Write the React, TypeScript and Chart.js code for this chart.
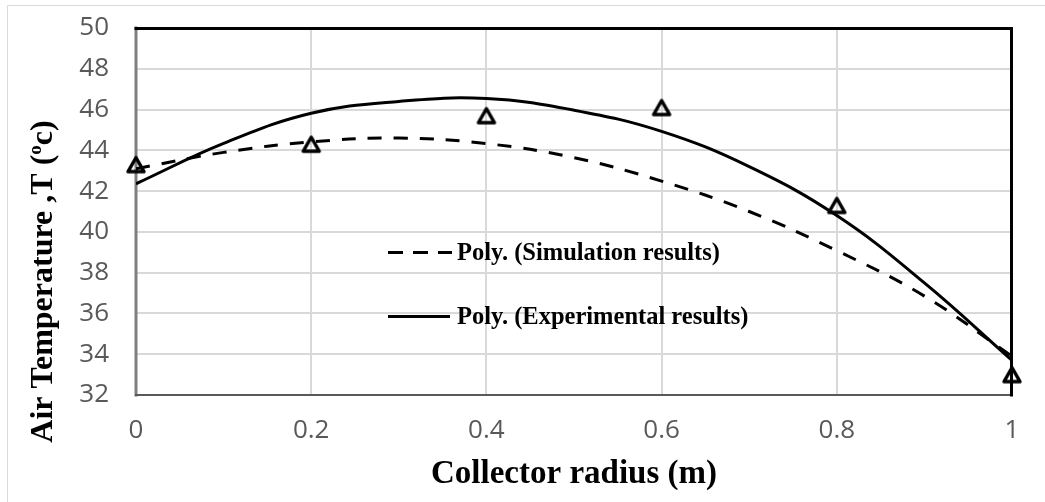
import React, { useEffect, useRef } from 'react';
import { Chart, registerables } from 'chart.js';

Chart.register(...registerables);

// ---- data ----
const curveX = [0, 0.1, 0.2, 0.3, 0.4, 0.5, 0.6, 0.7, 0.8, 0.9, 1.0];
const simulationPoly = [43.1, 43.9, 44.41, 44.6, 44.33, 43.64, 42.49, 41.0, 39.08, 36.85, 33.9];
const experimentalPoly = [42.36, 44.34, 45.82, 46.4, 46.54, 45.97, 44.93, 43.2, 40.8, 37.5, 33.7];
const markerX = [0, 0.2, 0.4, 0.6, 0.8, 1.0];
const markerValues = [43.3, 44.3, 45.7, 46.1, 41.3, 33.0];

const xTickValues = [0, 0.2, 0.4, 0.6, 0.8, 1];
const xTickLabels = ['0', '0.2', '0.4', '0.6', '0.8', '1'];
const yTickValues = [32, 34, 36, 38, 40, 42, 44, 46, 48, 50];
const yTickLabels = ['32', '34', '36', '38', '40', '42', '44', '46', '48', '50'];

const legendLabels = ['Poly. (Simulation results)', 'Poly. (Experimental results)'];
const xTitle = 'Collector radius (m)';
const yTitleParts = ['Air Temperature ,T (', 'o', 'c)'];

const W = 1045;
const H = 502;
const SERIF = '"Liberation Serif", "Times New Roman", serif';
const SANS = '"Open Sans", "Noto Sans", sans-serif';

function makeTriangle(): HTMLCanvasElement {
  const c = document.createElement('canvas');
  c.width = 28;
  c.height = 28;
  const g = c.getContext('2d')!;
  const cx = 14;
  const cy = 14;
  const w = 16;
  const h = 14;
  g.strokeStyle = '#000';
  g.lineWidth = 3.5;
  g.lineJoin = 'round';
  g.beginPath();
  g.moveTo(cx, cy - h / 2);
  g.lineTo(cx + w / 2, cy + h / 2);
  g.lineTo(cx - w / 2, cy + h / 2);
  g.closePath();
  g.stroke();
  return c;
}

const decorPlugin = {
  id: 'decor',
  beforeDraw(chart: any) {
    const ctx = chart.ctx;
    ctx.save();
    ctx.fillStyle = '#fff';
    ctx.fillRect(0, 0, W, H);
    ctx.strokeStyle = '#d9d9d9';
    ctx.lineWidth = 1;
    ctx.beginPath();
    ctx.moveTo(7.5, H);
    ctx.lineTo(7.5, 5.5);
    ctx.lineTo(W, 5.5);
    ctx.stroke();
    ctx.restore();
  },
  beforeDatasetsDraw(chart: any) {
    const ctx = chart.ctx;
    const { left, right, top, bottom } = chart.chartArea;
    ctx.save();
    ctx.lineCap = 'square';
    ctx.strokeStyle = '#7f7f7f';
    ctx.lineWidth = 3;
    ctx.beginPath();
    ctx.moveTo(left, top);
    ctx.lineTo(left, bottom);
    ctx.stroke();
    ctx.strokeStyle = '#595959';
    ctx.lineWidth = 2;
    ctx.beginPath();
    ctx.moveTo(left, bottom);
    ctx.lineTo(right, bottom);
    ctx.stroke();
    ctx.strokeStyle = '#000';
    ctx.lineWidth = 3;
    ctx.beginPath();
    ctx.moveTo(left, top + 0.5);
    ctx.lineTo(right - 0.5, top + 0.5);
    ctx.lineTo(right - 0.5, bottom);
    ctx.stroke();
    ctx.restore();
  },
  afterDraw(chart: any) {
    const ctx = chart.ctx;
    const { left, right } = chart.chartArea;
    ctx.save();
    ctx.fillStyle = '#000';
    // x title
    ctx.font = `bold 33px ${SERIF}`;
    ctx.textAlign = 'center';
    ctx.textBaseline = 'alphabetic';
    ctx.fillText(xTitle, (left + right) / 2, 483);
    // y title
    ctx.translate(52, 281.5);
    ctx.rotate(-Math.PI / 2);
    ctx.textAlign = 'left';
    const big = `bold 32px ${SERIF}`;
    const small = `bold 19px ${SERIF}`;
    ctx.font = big;
    const w1 = ctx.measureText(yTitleParts[0]).width;
    const w3 = ctx.measureText(yTitleParts[2]).width;
    ctx.font = small;
    const w2 = ctx.measureText(yTitleParts[1]).width;
    const start = -(w1 + w2 + w3) / 2;
    ctx.font = big;
    ctx.fillText(yTitleParts[0], start, 0);
    ctx.font = small;
    ctx.fillText(yTitleParts[1], start + w1, -11);
    ctx.font = big;
    ctx.fillText(yTitleParts[2], start + w1 + w2, 0);
    ctx.restore();

    // legend
    ctx.save();
    ctx.strokeStyle = '#000';
    ctx.lineWidth = 3;
    ctx.setLineDash([15, 10]);
    ctx.beginPath();
    ctx.moveTo(388, 252.5);
    ctx.lineTo(452, 252.5);
    ctx.stroke();
    ctx.setLineDash([]);
    ctx.beginPath();
    ctx.moveTo(388, 316.5);
    ctx.lineTo(450, 316.5);
    ctx.stroke();
    ctx.fillStyle = '#000';
    ctx.font = `bold 24.5px ${SERIF}`;
    ctx.textAlign = 'left';
    ctx.textBaseline = 'alphabetic';
    ctx.fillText(legendLabels[0], 457, 260);
    ctx.fillText(legendLabels[1], 457, 324);
    ctx.restore();
  },
};

export default function App() {
  const ref = useRef<HTMLCanvasElement | null>(null);

  useEffect(() => {
    if (!ref.current) return;
    const tri = makeTriangle();
    const chart = new Chart(ref.current, {
      type: 'line',
      data: {
        datasets: [
          {
            label: 'Results',
            data: markerX.map((x, i) => ({ x, y: markerValues[i] })),
            showLine: false,
            pointStyle: tri as any,
            pointRadius: 10,
            borderColor: '#000',
            backgroundColor: 'transparent',
            clip: false as any,
            order: 0,
          },
          {
            label: legendLabels[1],
            data: curveX.map((x, i) => ({ x, y: experimentalPoly[i] })),
            borderColor: '#000',
            borderWidth: 3,
            pointRadius: 0,
            tension: 0.4,
            fill: false,
            order: 1,
          },
          {
            label: legendLabels[0],
            data: curveX.map((x, i) => ({ x, y: simulationPoly[i] })),
            borderColor: '#000',
            borderWidth: 3,
            borderDash: [14, 12],
            pointRadius: 0,
            tension: 0.4,
            fill: false,
            order: 2,
          },
        ],
      },
      options: {
        responsive: false,
        animation: false,
        devicePixelRatio: 1,
        layout: { padding: { top: 28, right: 33, left: 0, bottom: 0 } },
        plugins: { legend: { display: false }, tooltip: { enabled: false }, title: { display: false } },
        scales: {
          x: {
            type: 'linear',
            min: 0,
            max: 1,
            afterBuildTicks: (s: any) => {
              s.ticks = xTickValues.map((v) => ({ value: v }));
            },
            afterFit: (s: any) => {
              s.height = 107;
              s.paddingLeft = 0;
              s.paddingRight = 0;
            },
            ticks: {
              callback: (_v: any, i: number) => xTickLabels[i],
              color: '#595959',
              font: { family: SANS, size: 26 },
              padding: 20,
              maxRotation: 0,
              autoSkip: false,
            },
            grid: { color: '#d9d9d9', lineWidth: 2, drawTicks: false },
            border: { display: false },
          },
          y: {
            type: 'linear',
            min: 32,
            max: 50,
            afterBuildTicks: (s: any) => {
              s.ticks = yTickValues.map((v) => ({ value: v }));
            },
            afterFit: (s: any) => {
              s.width = 136;
              s.paddingTop = 0;
              s.paddingBottom = 0;
            },
            ticks: {
              callback: (_v: any, i: number) => yTickLabels[i],
              color: '#595959',
              font: { family: SANS, size: 26 },
              padding: 27,
              autoSkip: false,
            },
            grid: { color: '#d9d9d9', lineWidth: 2, drawTicks: false },
            border: { display: false },
          },
        },
      },
      plugins: [decorPlugin],
    });
    return () => chart.destroy();
  }, []);

  return (
    <div style={{ position: 'absolute', left: 0, top: 0, width: W, height: H, background: '#fff' }}>
      <canvas ref={ref} width={W} height={H} style={{ display: 'block', width: W, height: H }} />
    </div>
  );
}
